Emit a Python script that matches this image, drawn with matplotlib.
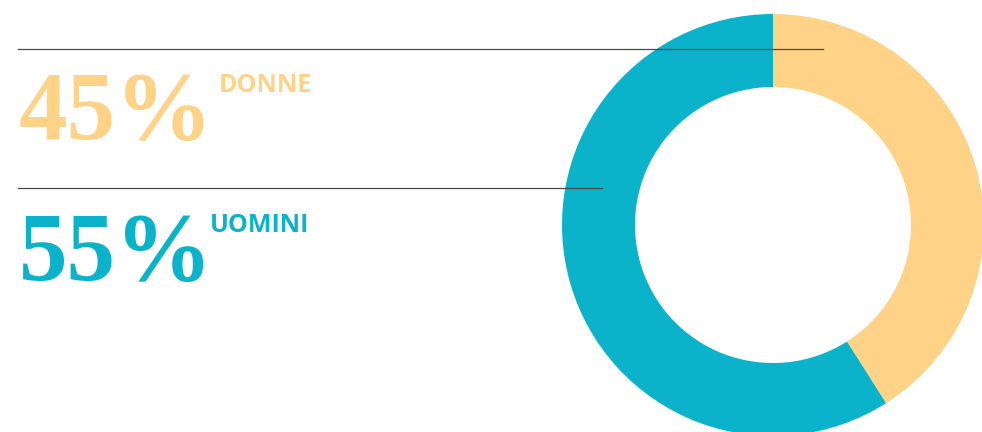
import matplotlib
matplotlib.use('Agg')
import matplotlib.pyplot as plt

# data
labels = ['DONNE', 'UOMINI']
pct_text = ['45%', '55%']
shares = [41, 59]          # arc sizes as drawn in the donut
colors = ['#FED387', '#0AB3CA']

W, H = 982, 432
fig = plt.figure(figsize=(W / 100, H / 100), dpi=100)
ax = fig.add_axes([0, 0, 1, 1])

# donut (pixel coords, y measured from the bottom)
ax.pie(shares, colors=colors, startangle=90, counterclock=False,
       center=(773, H - 225), radius=211,
       wedgeprops=dict(width=73, linewidth=0))

# divider lines
ax.plot([18, 823], [H - 49, H - 49], color='#4a4a4a', lw=0.9, zorder=5)
ax.plot([18, 602], [H - 188, H - 188], color='#4a4a4a', lw=0.9, zorder=5)

# big percentages + labels
num_y = [H - 139, H - 280]
lab_x = [219, 210]
lab_y = [H - 92, H - 232]
for i in range(2):
    ax.text(19, num_y[i], pct_text[i], color=colors[i], fontsize=70,
            fontweight='bold', family='Liberation Serif', va='baseline', ha='left')
    ax.text(lab_x[i], lab_y[i], labels[i], color=colors[i], fontsize=18,
            fontweight='bold', family='Open Sans', va='baseline', ha='left')

ax.set_xlim(0, W)
ax.set_ylim(0, H)
ax.set_aspect('equal')
ax.axis('off')

fig.savefig('out.png', dpi=100)
